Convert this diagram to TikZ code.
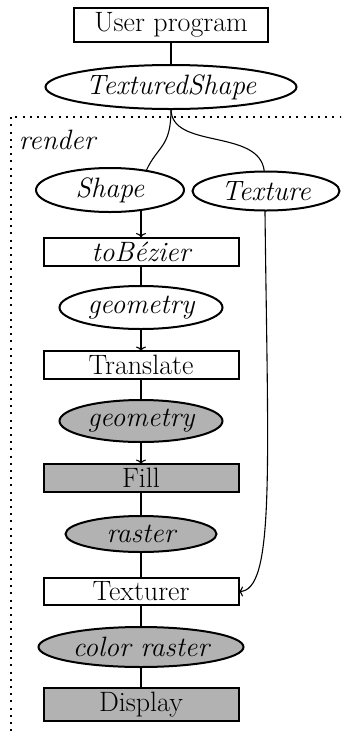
\documentclass[tikz,border=0pt]{standalone}
\usepackage{fontspec}
\usetikzlibrary{shapes.geometric,arrows.meta}
\begin{document}
\begin{tikzpicture}[x=1pt,y=-1pt,
  every node/.style={font=\fontsize{28}{33}\selectfont, inner sep=0pt, outer sep=0pt},
  box/.style={draw, rectangle, line width=2pt, minimum width=195pt},
  ell/.style={draw, ellipse, line width=2pt, font=\fontsize{28}{33}\selectfont\itshape},
  gr/.style={fill=gray!60},
  thinline/.style={line width=1.1pt},
  midline/.style={line width=1.5pt},
  thickline/.style={line width=1.8pt},
  arr/.style={-{Computer Modern Rightarrow[length=4.5pt,width=10pt]}},
  frame/.style={line width=2pt, dash pattern=on 2pt off 5.2pt}]
\clip (0,0) rectangle (341,732);
% frame
\draw[frame] (11,760) -- (11,116.5) -- (380,116.5);
\node[anchor=base west, font=\fontsize{28}{33}\selectfont\itshape] (render) at (19,149) {render};
% nodes
\node[box, minimum width=194pt, minimum height=34pt] (user) at (171,25) {User program};
\node[ell, minimum width=251pt, minimum height=44pt] (ts) at (171,87) {TexturedShape};
\node[ell, minimum width=148pt, minimum height=44pt] (shape) at (110,190) {Shape};
\node[ell, minimum width=147pt, minimum height=39pt] (texture) at (266,191) {Texture};
\node[box, minimum height=28pt] (tob) at (141,251.5) {\itshape toBézier};
\node[ell, minimum width=163pt, minimum height=43pt] (geo1) at (141,307.5) {geometry};
\node[box, minimum height=28pt] (translate) at (141,365) {Translate};
\node[ell, gr, minimum width=163pt, minimum height=42pt] (geo2) at (141,421) {geometry};
\node[box, gr, minimum height=28pt] (fill) at (141,478) {Fill};
\node[ell, gr, minimum width=151pt, minimum height=36pt] (raster) at (141,534) {raster};
\node[box, minimum height=27pt] (texturer) at (141,591.5) {Texturer};
\node[ell, gr, minimum width=205pt, minimum height=40pt] (craster) at (141,647) {color raster};
\node[box, gr, minimum height=33pt] (display) at (141,704.5) {Display};
% connectors
\draw[midline] (user) -- (ts);
\draw[thinline] (ts.south) .. controls (171,148) and (158,145) .. (shape.28);
\draw[thinline] (ts.south) .. controls (171,150) and (260,128) .. (texture.95);
\draw[thinline, arr] (tob.north |- shape.-34) -- (tob.north);
\draw[thinline] (tob) -- (geo1);
\draw[thinline, arr] (geo1) -- (translate);
\draw[thinline] (translate) -- (geo2);
\draw[thinline, arr] (geo2) -- (fill);
\draw[thickline] (fill) -- (raster);
\draw[thickline] (raster) -- (texturer);
\draw[thickline] (texturer) -- (craster);
\draw[thickline] (craster) -- (display);
\draw[thinline, arr] (texture.-93) .. controls (268,470) and (275,591.5) .. (texturer.east);
\end{tikzpicture}
\end{document}
